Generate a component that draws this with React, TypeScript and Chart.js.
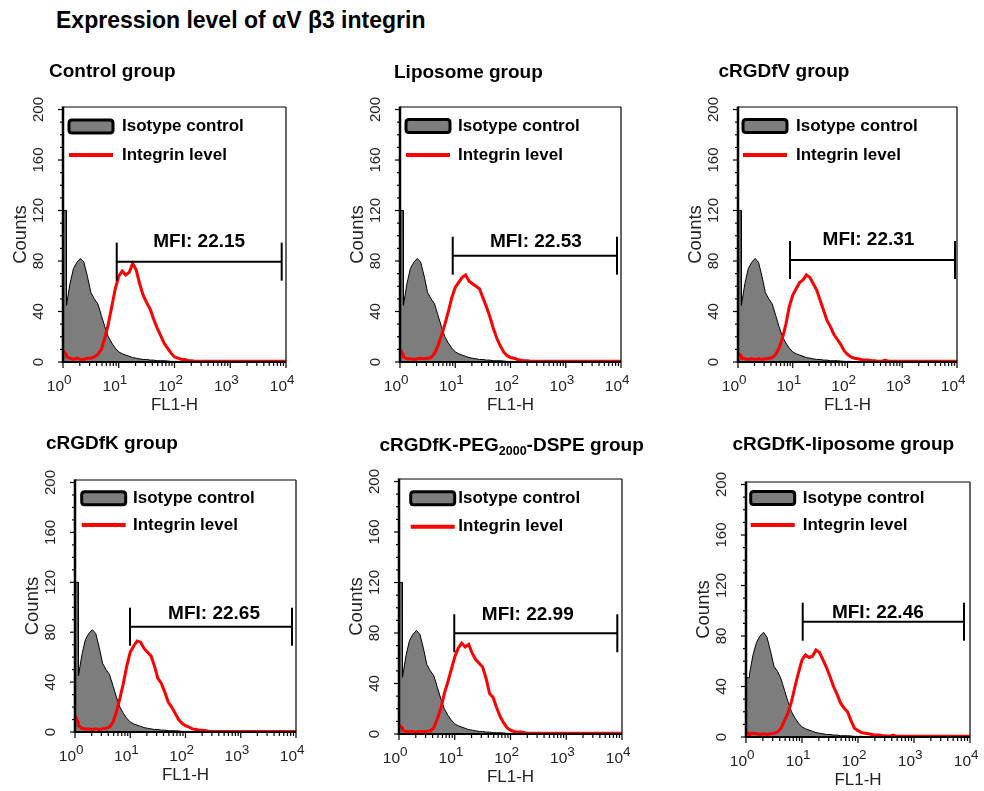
import React, { useEffect, useRef } from 'react';
import { Chart, registerables } from 'chart.js';

Chart.register(...registerables);

const FONT = '"Liberation Sans", Arial, Helvetica, sans-serif';
const TXT = '#222222';
const RED = '#ff0000';
const GRAY = '#7d7d7d';

// ---------- data ----------
const mainTitle = 'Expression level of αV β3 integrin';

// FL1-H channel positions (fluorescence intensity, log axis)
const fl1Channels = [
  1, 1.14, 1.155, 1.334, 1.54, 1.778, 2.054, 2.371, 2.738, 3.162, 3.652, 4.217, 4.87, 5.623, 6.494, 7.499, 8.66,
  10, 11.55, 13.34, 15.4, 17.78, 20.54, 23.71, 27.38, 31.62, 36.52, 42.17, 48.7, 56.23, 64.94, 74.99, 86.6,
  100, 115.5, 133.4, 154, 177.8, 205.4, 237.1, 273.8, 316.2, 365.2, 421.7, 487, 562.3,
  749.9, 1000, 1778, 3162, 5623, 10000,
];

// Isotype control counts (gray filled histogram)
const isotypeCounts = [
  120, 120, 45, 62, 74, 79, 82, 79, 68, 55, 50, 46, 37, 28, 20, 15, 11,
  8, 6.5, 5.5, 4.5, 3.5, 3, 2.5, 2, 2, 1.5, 1.5, 1, 1, 1, 0.8, 0.5,
  0.5, 0.5, 0.3, 0, 0, null, null, null, null, null, null, null, null,
  null, null, null, null, null, null,
];
const isotypeCountsLiposomeRGD = [
  47, 47, 50, 65, 75, 80, 83, 79, 68, 56, 52, 46, 37, 28, 20, 15, 11,
  8, 6.5, 5.5, 4.5, 3.5, 3, 2.5, 2, 2, 1.5, 1.5, 1, 1, 1, 0.8, 0.5,
  0.5, 0.5, 0.3, 0, 0, null, null, null, null, null, null, null, null,
  null, null, null, null, null, null,
];

// Integrin level counts (red histograms)
const integrinControl = [
  9, 6, 4, 3, 2, 3, 2, 2, 3, 3, 4, 6, 10, 19, 30, 44, 58,
  68, 72, 69, 71, 78, 73, 62, 53, 47, 42, 34, 27, 21, 15, 11, 7,
  4, 3, 2, 2, 1, 1, 0.5, 0.5, 0.5, 0.5, 0.5, 0.5, 0.5,
  0.5, 0.5, 0.5, 0.5, 0.5, 0.5,
];
const integrinLiposome = [
  10, 6, 4, 2.5, 2.5, 2, 2.5, 3, 2.5, 3, 3.5, 7, 13, 21, 30, 40, 51,
  59, 63, 67, 69, 64, 62, 60, 58, 51, 44, 36, 27, 19, 13, 8, 5,
  3.5, 3, 2, 1.5, 1, 1, 0.5, 0.5, 0.5, 0.5, 0.5, 0.5, 0.5,
  0.5, 0.5, 0.5, 0.5, 0.5, 0.5,
];
const integrinCRGDfV = [
  7, 5, 3, 2.5, 2, 2.5, 2, 2.5, 2, 2.5, 3, 3.5, 6, 11, 19, 30, 44,
  53, 58, 63, 65, 69, 67, 62, 57, 49, 41, 33, 28, 22, 18, 14, 9,
  6, 4, 3, 2.5, 2, 1.5, 1.5, 1, 1, 0.5, 0.5, 1.5, 0.5,
  0.5, 0.5, 0.5, 0.5, 0.5, 0.5,
];
const integrinCRGDfK = [
  13, 8, 5, 3, 2.5, 2.5, 2, 2.5, 2, 2.5, 3, 4, 8, 16, 27, 39, 53,
  64, 69, 73, 72, 67, 64, 61, 53, 43, 39, 32, 24, 20, 15, 10, 7,
  5, 4, 2.5, 2, 1.5, 1.5, 1, 0.5, 0.5, 0.5, 0.5, 0.5, 0.5,
  0.5, 0.5, 0.5, 0.5, 0.5, 0.5,
];
const integrinCRGDfKPEG = [
  7, 5, 3, 2, 2, 2, 1.5, 2, 2, 2, 2.5, 5, 12, 20, 32, 41, 51,
  61, 68, 72, 69, 71, 64, 59, 56, 53, 44, 32, 29, 21, 14, 9, 5,
  3, 2, 1.5, 1.5, 1, 0.5, 0.5, 0.5, 0.5, 0.5, 0.5, 0.5, 0.5,
  0.5, 0.5, 0.5, 0.5, 0.5, 0.5,
];
const integrinCRGDfKLiposome = [
  3, 3, 2.5, 3, 2.5, 2, 2.5, 2, 2.5, 3, 4, 7, 13, 19, 28, 40, 51,
  61, 65, 63, 64, 69, 67, 61, 55, 48, 40, 34, 27, 23, 20, 13, 7,
  5, 3.5, 3, 2.5, 2, 1.5, 1.5, 1, 1, 0.5, 1.5, 0.5, 0.5,
  0.5, 0.5, 0.5, 0.5, 0.5, 0.5,
];

const panelTitles = [
  'Control group',
  'Liposome group',
  'cRGDfV group',
  'cRGDfK group',
  'cRGDfK-PEG_{2000}-DSPE group',
  'cRGDfK-liposome group',
];
const panelIntegrin = [integrinControl, integrinLiposome, integrinCRGDfV, integrinCRGDfK, integrinCRGDfKPEG, integrinCRGDfKLiposome];
const panelIsotype = [isotypeCounts, isotypeCounts, isotypeCounts, isotypeCounts, isotypeCounts, isotypeCountsLiposomeRGD];

const mfiValues = ['22.15', '22.53', '22.31', '22.65', '22.99', '22.46'];
const mfiGateStart = [9.2, 9.0, 8.9, 9.9, 9.8, 10.3];
const mfiGateEnd = [8370, 8470, 9190, 8470, 8240, 7810];
const mfiGateLevel = [79.5, 84.2, 80.8, 84.4, 79.8, 91.3];

const legendLabels = ['Isotype control', 'Integrin level'];
const xDecades = [1, 10, 100, 1000, 10000];
const xDecadeExponents = ['0', '1', '2', '3', '4'];
const yMax = 202;
const yLabelStep = 40;
const yMinorStep = 10;

// ---------- layout (page pixels) ----------
const PAD_L = 60;
const PAD_T = 50;
const PAD_B = 58;
const panelLayout = [
  { left: 63, top: 107, right: 286, bottom: 362, padR: 12, titleX: 49, titleY: 77.3, boxDx: 6, boxDy: 19.5, lineDy: 48, textDx: 59, mfiDx: 0, mfiDy: 15 },
  { left: 400, top: 107, right: 621, bottom: 362, padR: 12, titleX: 394, titleY: 78, boxDx: 6, boxDy: 19, lineDy: 48, textDx: 58, mfiDx: 1, mfiDy: 9 },
  { left: 738, top: 107, right: 957, bottom: 362, padR: 12, titleX: 718.5, titleY: 77, boxDx: 5, boxDy: 19, lineDy: 48, textDx: 58, mfiDx: -4, mfiDy: 15 },
  { left: 75, top: 480, right: 296, bottom: 732, padR: 12, titleX: 46, titleY: 449, boxDx: 6.7, boxDy: 18.3, lineDy: 45, textDx: 58, mfiDx: 3, mfiDy: 8 },
  { left: 399, top: 479, right: 622, bottom: 734, padR: 26, titleX: 379.5, titleY: 450.7, boxDx: 11.7, boxDy: 19.3, lineDy: 47.7, textDx: 59.3, mfiDx: -8, mfiDy: 13 },
  { left: 746, top: 482, right: 970, bottom: 737, padR: 12, titleX: 732.5, titleY: 450, boxDx: 4.7, boxDy: 16, lineDy: 43, textDx: 56.7, mfiDx: -5.5, mfiDy: 3.5 },
];

function line(ctx: CanvasRenderingContext2D, x1: number, y1: number, x2: number, y2: number) {
  ctx.beginPath();
  ctx.moveTo(x1, y1);
  ctx.lineTo(x2, y2);
  ctx.stroke();
}

function makeDecor(i: number, cx: number, cy: number) {
  const g = panelLayout[i];
  return {
    id: 'decor' + i,
    afterDraw(chart: any) {
      const ctx: CanvasRenderingContext2D = chart.ctx;
      const a = chart.chartArea;
      const xs = chart.scales.x;
      const ys = chart.scales.y;
      ctx.save();
      ctx.strokeStyle = '#000';
      ctx.fillStyle = '#000';

      // frame
      ctx.lineWidth = 1.2;
      line(ctx, a.left, a.top, a.right, a.top);
      line(ctx, a.right, a.top, a.right, a.bottom);
      ctx.lineWidth = 2.5;
      line(ctx, a.left, a.top - 0.6, a.left, a.bottom + 1);
      ctx.lineWidth = 2;
      line(ctx, a.left - 1, a.bottom, a.right, a.bottom);

      // y ticks
      ctx.lineWidth = 1.2;
      for (let v = 0; v <= 200; v += yMinorStep) {
        const py = ys.getPixelForValue(v);
        const len = v % yLabelStep === 0 ? 5 : 3;
        line(ctx, a.left - len, py, a.left, py);
      }
      // x ticks
      for (let e = 0; e < 4; e++) {
        for (let m = 1; m <= 9; m++) {
          const v = m * Math.pow(10, e);
          const px = xs.getPixelForValue(v);
          line(ctx, px, a.bottom, px, a.bottom + (m === 1 ? 6 : 4));
        }
      }
      const p4 = xs.getPixelForValue(10000);
      line(ctx, p4, a.bottom, p4, a.bottom + 6);

      // x tick labels 10^n
      ctx.fillStyle = TXT;
      xDecades.forEach((v, k) => {
        const px = xs.getPixelForValue(v);
        ctx.font = `15.5px ${FONT}`;
        ctx.textAlign = 'right';
        ctx.textBaseline = 'alphabetic';
        ctx.fillText('10', px + 1, a.bottom + 29);
        ctx.font = `13.5px ${FONT}`;
        ctx.textAlign = 'left';
        ctx.fillText(xDecadeExponents[k], px + 1, a.bottom + 22);
      });

      // legend
      const bx = a.left + g.boxDx;
      const by = a.top + g.boxDy - 6.5;
      const bw = 44, bh = 13, r = 3;
      ctx.beginPath();
      ctx.moveTo(bx + r, by);
      ctx.lineTo(bx + bw - r, by);
      ctx.quadraticCurveTo(bx + bw, by, bx + bw, by + r);
      ctx.lineTo(bx + bw, by + bh - r);
      ctx.quadraticCurveTo(bx + bw, by + bh, bx + bw - r, by + bh);
      ctx.lineTo(bx + r, by + bh);
      ctx.quadraticCurveTo(bx, by + bh, bx, by + bh - r);
      ctx.lineTo(bx, by + r);
      ctx.quadraticCurveTo(bx, by, bx + r, by);
      ctx.closePath();
      ctx.fillStyle = GRAY;
      ctx.fill();
      ctx.lineWidth = 3;
      ctx.strokeStyle = '#000';
      ctx.stroke();
      ctx.strokeStyle = RED;
      ctx.lineWidth = 4;
      line(ctx, bx, a.top + g.lineDy, bx + bw, a.top + g.lineDy);
      ctx.fillStyle = '#000';
      ctx.font = `bold 17px ${FONT}`;
      ctx.textAlign = 'left';
      ctx.textBaseline = 'middle';
      ctx.fillText(legendLabels[0], a.left + g.textDx, a.top + g.boxDy);
      ctx.fillText(legendLabels[1], a.left + g.textDx, a.top + g.lineDy);

      // MFI gate
      const gx1 = xs.getPixelForValue(mfiGateStart[i]);
      const gx2 = xs.getPixelForValue(mfiGateEnd[i]);
      const gy = ys.getPixelForValue(mfiGateLevel[i]);
      ctx.strokeStyle = '#000';
      ctx.lineWidth = 2;
      line(ctx, gx1, gy, gx2, gy);
      line(ctx, gx1, gy - 19, gx1, gy + 19);
      line(ctx, gx2, gy - 19, gx2, gy + 19);
      ctx.font = `bold 19px ${FONT}`;
      ctx.textAlign = 'center';
      ctx.textBaseline = 'alphabetic';
      ctx.fillText('MFI: ' + mfiValues[i], (gx1 + gx2) / 2 + g.mfiDx, gy - g.mfiDy);

      // panel title (supports _{sub})
      const parts = panelTitles[i].split(/_\{(.*?)\}/);
      let tx = g.titleX - cx;
      const ty = g.titleY - cy;
      ctx.textAlign = 'left';
      parts.forEach((p, k) => {
        if (!p) return;
        const sub = k % 2 === 1;
        ctx.font = sub ? `bold 12.5px ${FONT}` : `bold 19px ${FONT}`;
        ctx.fillText(p, tx, ty + (sub ? 4 : 0));
        tx += ctx.measureText(p).width;
      });
      ctx.restore();
    },
  };
}

function Panel({ i }: { i: number }) {
  const ref = useRef<HTMLCanvasElement>(null);
  const g = panelLayout[i];
  const cx = g.left - PAD_L;
  const cy = g.top - PAD_T;
  const cw = g.right - g.left + PAD_L + g.padR;
  const ch = g.bottom - g.top + PAD_T + PAD_B;

  useEffect(() => {
    if (!ref.current) return;
    const integrin = panelIntegrin[i];
    const iso = panelIsotype[i];
    const chart = new Chart(ref.current, {
      type: 'line',
      data: {
        datasets: [
          {
            label: legendLabels[1],
            data: fl1Channels.map((x, j) => ({ x, y: integrin[j] })),
            borderColor: RED,
            borderWidth: 3,
            pointRadius: 0,
            fill: false,
            tension: 0,
            order: 0,
          },
          {
            label: legendLabels[0],
            data: fl1Channels.map((x, j) => ({ x, y: iso[j] })),
            borderColor: '#000',
            borderWidth: 1,
            backgroundColor: GRAY,
            fill: 'origin',
            pointRadius: 0,
            tension: 0,
            order: 1,
          },
        ],
      } as any,
      options: {
        responsive: false,
        maintainAspectRatio: false,
        animation: false,
        devicePixelRatio: 1,
        events: [],
        layout: { padding: { top: PAD_T, right: g.padR, left: 0, bottom: 0 } },
        plugins: { legend: { display: false }, tooltip: { enabled: false }, title: { display: false } },
        scales: {
          x: {
            type: 'logarithmic',
            min: 1,
            max: 10000,
            grid: { display: false, drawTicks: false },
            border: { display: false },
            ticks: { display: false },
            title: {
              display: true,
              text: 'FL1-H',
              color: TXT,
              font: { family: FONT, size: 17 },
              padding: { top: 0, bottom: 4 },
            },
            afterFit: (s: any) => { s.height = PAD_B; },
          },
          y: {
            type: 'linear',
            min: 0,
            max: yMax,
            grid: { display: false, drawTicks: false },
            border: { display: false },
            ticks: {
              stepSize: yLabelStep,
              includeBounds: false,
              minRotation: 90,
              maxRotation: 90,
              crossAlign: 'center',
              padding: 11.5,
              color: TXT,
              font: { family: FONT, size: 15 },
            },
            title: {
              display: true,
              text: 'Counts',
              color: TXT,
              font: { family: FONT, size: 18.5 },
              padding: { top: 7, bottom: 0 },
            },
            afterFit: (s: any) => { s.width = PAD_L; },
          },
        },
      } as any,
      plugins: [makeDecor(i, cx, cy)],
    });
    return () => chart.destroy();
  }, []);

  return (
    <canvas
      ref={ref}
      width={cw}
      height={ch}
      style={{ position: 'absolute', left: cx, top: cy, width: cw, height: ch }}
    />
  );
}

export default function App() {
  return (
    <div style={{ position: 'absolute', left: 0, top: 0, width: 984, height: 791, overflow: 'hidden', background: '#fff' }}>
      <div
        style={{
          position: 'absolute',
          left: 56,
          top: 9,
          fontFamily: FONT,
          fontWeight: 'bold',
          fontSize: 23,
          lineHeight: '23px',
          whiteSpace: 'nowrap',
          color: '#000',
        }}
      >
        {mainTitle}
      </div>
      {panelLayout.map((_, i) => (
        <Panel key={i} i={i} />
      ))}
    </div>
  );
}
